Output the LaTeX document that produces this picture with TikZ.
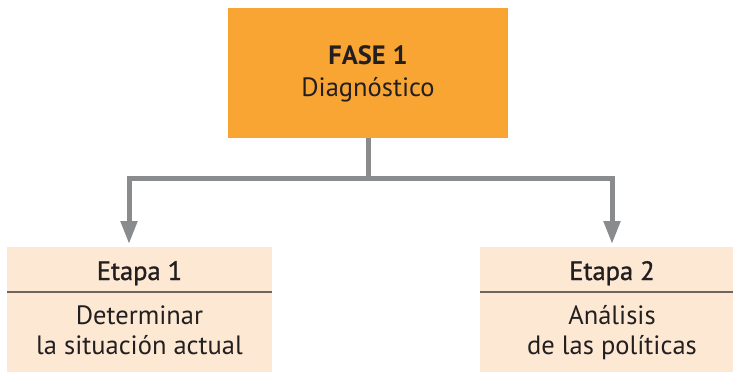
\documentclass[tikz,border=0pt]{standalone}
\usepackage{fontspec}
\setmainfont{PT Sans}
\newfontfamily\medfont[RawFeature={embolden=1.2}]{PT Sans}
\usetikzlibrary{arrows.meta}
\definecolor{fase}{HTML}{F8A533}
\definecolor{etapa}{HTML}{FDE9D3}
\definecolor{conn}{HTML}{8A8B8D}
\definecolor{txt}{HTML}{231F20}
\definecolor{divider}{HTML}{6E6461}
\tikzset{
  x=1pt,y=-1pt,
  lbl/.style={text=txt,font=\fontsize{26.5}{30}\selectfont,inner sep=0pt,anchor=base,align=center},
  connector/.style={draw=conn,line width=5pt},
  tip/.style={-{Triangle[length=23pt,width=16pt]}}
}
\begin{document}
\begin{tikzpicture}
\useasboundingbox (0,0) rectangle (733,373);
% top box
\fill[fase] (228,8) rectangle (508,138);
\coordinate (faseB) at (368.5,138);
\node[lbl] (fasetitle) at (368,64) {\bfseries FASE 1};
\node[lbl] (fasesub) at (368,96) {Diagnóstico};
% bottom boxes
\fill[etapa] (7,247) rectangle (272,372);
\fill[etapa] (480,247) rectangle (745,372);
\draw[divider,line width=1.3pt] (7,292) -- (272,292);
\draw[divider,line width=1.3pt] (480,292) -- (745,292);
\coordinate (e1T) at (129,244);
\coordinate (e2T) at (612,244);
\node[lbl] (e1title) at (139.5,280) {\medfont Etapa 1};
\node[lbl] (e1a) at (139.5,324) {Determinar};
\node[lbl] (e1b) at (139.5,354) {la situación actual};
\node[lbl] (e2title) at (612,280) {\medfont Etapa 2};
\node[lbl] (e2a) at (612,324) {Análisis};
\node[lbl] (e2b) at (612,354) {de las políticas};
% connectors
\coordinate (hub) at (368.5,178.5);
\draw[connector] (faseB) -- (hub);
\draw[connector,tip] (hub) -| (e1T);
\draw[connector,tip] (hub) -| (e2T);
\end{tikzpicture}
\end{document}
